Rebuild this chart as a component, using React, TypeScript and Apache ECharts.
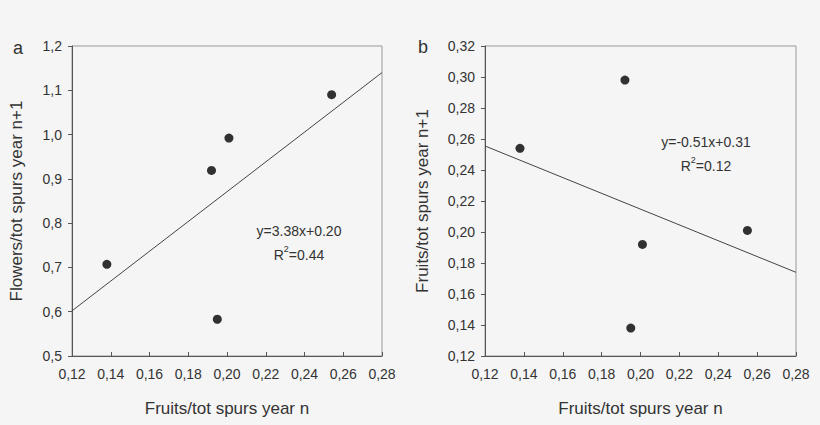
import React, { useEffect, useRef } from "react";
import * as echarts from "echarts";

const xTicksMin = 0.12;
const xTicksMax = 0.28;

const pointsA: number[][] = [
  [0.138, 0.707],
  [0.192, 0.919],
  [0.201, 0.992],
  [0.195, 0.583],
  [0.254, 1.09],
];
const fitA: number[][] = [
  [0.12, 0.602],
  [0.28, 1.14],
];
const pointsB: number[][] = [
  [0.138, 0.254],
  [0.192, 0.298],
  [0.201, 0.192],
  [0.195, 0.138],
  [0.255, 0.201],
];
const fitB: number[][] = [
  [0.12, 0.2555],
  [0.28, 0.174],
];

const eqA = "y=3.38x+0.20";
const r2A = "0.44";
const eqB = "y=-0.51x+0.31";
const r2B = "0.12";

const xTitle = "Fruits/tot spurs year n";
const yTitleA = "Flowers/tot spurs year n+1";
const yTitleB = "Fruits/tot spurs year n+1";

const FONT = "'Liberation Sans', Arial, sans-serif";
const TXT = "#333";

function comma(d: number) {
  return (v: number) => v.toFixed(d).replace(".", ",");
}

function xAxis(gridIndex: number) {
  return {
    type: "value",
    gridIndex,
    min: xTicksMin,
    max: xTicksMax,
    interval: 0.02,
    name: xTitle,
    nameLocation: "middle",
    nameGap: 44,
    nameTextStyle: { fontFamily: FONT, fontSize: 17, color: TXT },
    axisLine: { show: true, onZero: false, lineStyle: { color: "#555", width: 1 } },
    axisTick: { show: true, inside: true, length: 4, lineStyle: { color: "#555" } },
    axisLabel: { formatter: comma(2), fontFamily: FONT, fontSize: 14, color: TXT, margin: 11 },
    splitLine: { show: false },
  };
}

function yAxis(gridIndex: number, min: number, max: number, interval: number, dec: number, name: string, gap: number) {
  return {
    type: "value",
    gridIndex,
    min,
    max,
    interval,
    name,
    nameLocation: "middle",
    nameGap: gap,
    nameTextStyle: { fontFamily: FONT, fontSize: 17, color: TXT },
    axisLine: { show: true, onZero: false, lineStyle: { color: "#555", width: 1 } },
    axisTick: { show: true, inside: false, length: 4, lineStyle: { color: "#555" } },
    axisLabel: { formatter: comma(dec), fontFamily: FONT, fontSize: 14, color: TXT, margin: 10 },
    splitLine: { show: false },
  };
}

function annot(cx: number, cy: number, eq: string, r2: string) {
  return [
    {
      type: "text",
      x: cx,
      y: cy,
      style: {
        text: eq,
        fontFamily: FONT,
        fontSize: 14,
        fill: TXT,
        align: "center",
        verticalAlign: "middle",
      },
    },
    {
      type: "text",
      x: cx,
      y: cy + 22,
      style: {
        text: "{n|R}{sup|2}{n|=" + r2 + "}",
        fontFamily: FONT,
        fontSize: 14,
        fill: TXT,
        align: "center",
        verticalAlign: "middle",
        rich: {
          n: { fontFamily: FONT, fontSize: 14, fill: TXT, lineHeight: 17, verticalAlign: "bottom" },
          sup: { fontFamily: FONT, fontSize: 9, fill: TXT, lineHeight: 17, verticalAlign: "top" },
        },
      },
    },
  ];
}

export default function App() {
  const ref = useRef<HTMLDivElement>(null);
  useEffect(() => {
    if (!ref.current) return;
    const chart = echarts.init(ref.current, undefined, { renderer: "svg" });
    chart.setOption({
      animation: false,
      backgroundColor: "#f5f5f5",
      grid: [
        { left: 72, top: 46, width: 310, height: 310, show: true, borderColor: "#999", borderWidth: 1, backgroundColor: "transparent" },
        { left: 485, top: 46, width: 311, height: 310, show: true, borderColor: "#999", borderWidth: 1, backgroundColor: "transparent" },
      ],
      xAxis: [xAxis(0), xAxis(1)],
      yAxis: [
        yAxis(0, 0.5, 1.2, 0.1, 1, yTitleA, 47),
        yAxis(1, 0.12, 0.32, 0.02, 2, yTitleB, 54),
      ],
      series: [
        {
          type: "line",
          xAxisIndex: 0,
          yAxisIndex: 0,
          data: fitA,
          showSymbol: false,
          lineStyle: { color: "#444", width: 1 },
          z: 2,
        },
        {
          type: "scatter",
          xAxisIndex: 0,
          yAxisIndex: 0,
          data: pointsA,
          symbolSize: 9,
          itemStyle: { color: "#000" },
          z: 3,
        },
        {
          type: "line",
          xAxisIndex: 1,
          yAxisIndex: 1,
          data: fitB,
          showSymbol: false,
          lineStyle: { color: "#444", width: 1 },
          z: 2,
        },
        {
          type: "scatter",
          xAxisIndex: 1,
          yAxisIndex: 1,
          data: pointsB,
          symbolSize: 9,
          itemStyle: { color: "#000" },
          z: 3,
        },
      ],
      graphic: [
        { type: "text", x: 18, y: 48, style: { text: "a", fontFamily: FONT, fontSize: 18, fill: TXT, align: "center", verticalAlign: "middle" } },
        { type: "text", x: 423, y: 47, style: { text: "b", fontFamily: FONT, fontSize: 18, fill: TXT, align: "center", verticalAlign: "middle" } },
        ...annot(299, 231, eqA, r2A),
        ...annot(706, 142, eqB, r2B),
      ],
    });
    return () => chart.dispose();
  }, []);
  return (
    <div
      ref={ref}
      style={{ position: "fixed", left: 0, top: 0, width: 820, height: 425 }}
    />
  );
}
